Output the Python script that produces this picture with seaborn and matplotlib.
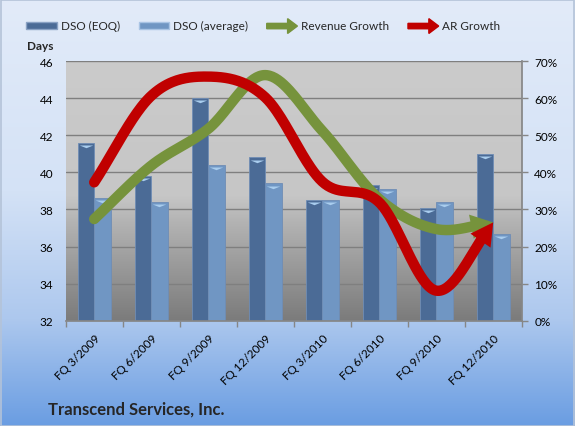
import matplotlib
matplotlib.use("Agg")
import matplotlib.pyplot as plt
import matplotlib.patches as mpatches
from matplotlib.legend_handler import HandlerPatch
from matplotlib.colors import LinearSegmentedColormap
import numpy as np
import pandas as pd
import seaborn as sns

quarters = ["FQ 3/2009", "FQ 6/2009", "FQ 9/2009", "FQ 12/2009",
            "FQ 3/2010", "FQ 6/2010", "FQ 9/2010", "FQ 12/2010"]
dso_eoq = [41.6, 39.8, 44.0, 40.8, 38.5, 39.3, 38.1, 41.0]
dso_avg = [38.6, 38.4, 40.4, 39.4, 38.5, 39.1, 38.4, 36.7]
revenue_growth = [27.4, 41.8, 51.7, 66.2, 51.2, 32.8, 24.7, 26.5]
ar_growth = [37.3, 60.6, 65.8, 60.2, 37.5, 31.9, 8.1, 26.5]

sns.set_theme(style="white")
plt.rcParams["font.family"] = ["Lato", "DejaVu Sans"]

dark, light = "#4b6b96", "#7096c3"
green, red = "#76933c", "#c00000"
gray = "#868686"


def smooth(xs, ys, n=40):
    # Catmull-Rom curve through the points, like Excel's smoothed line
    p = np.column_stack([xs, ys]).astype(float)
    p = np.vstack([2 * p[0] - p[1], p, 2 * p[-1] - p[-2]])
    t = np.linspace(0, 1, n, endpoint=False)[:, None]
    out = []
    for i in range(1, len(p) - 2):
        p0, p1, p2, p3 = p[i - 1], p[i], p[i + 1], p[i + 2]
        out.append(0.5 * (2 * p1 + (-p0 + p2) * t + (2 * p0 - 5 * p1 + 4 * p2 - p3) * t ** 2
                          + (-p0 + 3 * p1 - 3 * p2 + p3) * t ** 3))
    out.append(p[-2][None, :])
    return np.vstack(out)


fig = plt.figure(figsize=(5.75, 4.27), dpi=100)

# figure background gradient
bg = fig.add_axes([0, 0, 1, 1], zorder=-10)
fig_cmap = LinearSegmentedColormap.from_list(
    "figbg", [(0, "#e2ebf9"), (0.45, "#d4e2f6"), (0.75, "#adc8ee"), (1, "#6a9de2")])
bg.imshow(np.linspace(0, 1, 256)[:, None], cmap=fig_cmap, aspect="auto", extent=[0, 1, 0, 1])
bg.axis("off")
fig.patches.append(mpatches.Rectangle((0.001, 0.001), 0.998, 0.997, transform=fig.transFigure,
                                      fill=False, edgecolor="#b4c3d8", lw=1.2))

ax = fig.add_axes([0.1143, 0.2466, 0.7930, 0.6082])
ax.patch.set_visible(False)
plot_cmap = LinearSegmentedColormap.from_list(
    "plotbg", [(0, "#cbcbcb"), (0.52, "#c6c6c6"), (0.62, "#b3b3b3"), (1, "#7b7b7b")])
ax.imshow(np.linspace(0, 1, 256)[:, None], cmap=plot_cmap, aspect="auto",
          extent=[0, 1, 0, 1], transform=ax.transAxes, zorder=0)

df = pd.DataFrame({
    "quarter": quarters * 2,
    "value": dso_eoq + dso_avg,
    "series": ["DSO (EOQ)"] * len(quarters) + ["DSO (average)"] * len(quarters),
})
sns.barplot(data=df, x="quarter", y="value", hue="series", palette=[dark, light],
            width=0.58, saturation=1, legend=False, edgecolor="#6f8db5", linewidth=0.6,
            ax=ax, zorder=2)

# light caps at the top of the bars
cap = [(-1, 0), (1, 0), (0, -0.4), (-1, 0)]
for bar in ax.patches:
    ax.scatter(bar.get_x() + bar.get_width() / 2, bar.get_height() - 0.12, marker=cap,
               s=95, color="#a9cdee", linewidths=0, zorder=3)

ax.set_xlim(-0.5, len(quarters) - 0.5)
ax.set_ylim(32, 46)
ax.set_yticks(np.arange(32, 47, 2))
ax.yaxis.grid(True, color="#7f7f7f", lw=1)
ax.set_axisbelow(True)
ax.set_xlabel("")
ax.set_ylabel("")
ax.spines[["top", "left", "right"]].set_visible(False)
ax.spines["bottom"].set_color(gray)
ax.tick_params(axis="y", length=0, pad=9, labelsize=8.5, labelcolor="black")
ax.set_xticks(range(len(quarters)))
ax.set_xticklabels(quarters, rotation=45, ha="right", rotation_mode="anchor")
ax.set_xticks(np.arange(-0.5, len(quarters)), minor=True)
ax.tick_params(axis="x", which="major", length=0, pad=8, labelsize=8.5, labelcolor="black")
ax.tick_params(axis="x", which="minor", bottom=True, length=4, color=gray, width=1)

ax2 = ax.twinx()
ax2.set_ylim(0, 70)
ax2.set_yticks(np.arange(0, 71, 10))
ax2.set_yticklabels([f"{v}%" for v in range(0, 71, 10)])
ax2.grid(False)
ax2.spines[["top", "left", "bottom"]].set_visible(False)
ax2.spines["right"].set_color(gray)
ax2.tick_params(axis="y", right=True, length=4, color=gray, width=1, pad=5,
                labelsize=8.5, labelcolor="black")

head_px = 22
for series, color in [(revenue_growth, green), (ar_growth, red)]:
    curve = smooth(np.arange(len(series)), series)
    disp = ax2.transData.transform(curve)
    dist = np.hypot(*(disp - disp[-1]).T)
    cut = np.where(dist > head_px)[0][-1]
    ax2.plot(curve[:cut + 2, 0], curve[:cut + 2, 1], color=color, lw=7.5,
             solid_capstyle="round", solid_joinstyle="round", zorder=4)
    ax2.annotate("", xy=curve[-1], xytext=curve[cut],
                 arrowprops=dict(arrowstyle="-|>,head_length=1.0,head_width=0.55",
                                 mutation_scale=16, color=color, lw=0,
                                 shrinkA=0, shrinkB=0), zorder=5)


def arrow_handle(legend, orig_handle, xdescent, ydescent, width, height, fontsize):
    return mpatches.FancyArrow(0, height / 2, width, 0, width=height * 0.8,
                               head_width=height * 2.2, head_length=width * 0.32,
                               length_includes_head=True)


handles = [
    mpatches.Patch(facecolor=dark, edgecolor="#8aa2c4", label="DSO (EOQ)"),
    mpatches.Patch(facecolor=light, edgecolor="#a9c4e4", label="DSO (average)"),
    mpatches.FancyArrow(0, 0, 1, 0, color=green, label="Revenue Growth"),
    mpatches.FancyArrow(0, 0, 1, 0, color=red, label="AR Growth"),
]
fig.legend(handles=handles, loc="center", bbox_to_anchor=(0.458, 0.937), ncol=4,
           frameon=False, fontsize=8.5, handlelength=2.6, handleheight=0.5,
           handletextpad=0.3, columnspacing=1.6,
           handler_map={mpatches.FancyArrow: HandlerPatch(patch_func=arrow_handle)})

fig.text(0.047, 0.892, "Days", fontsize=8.5, weight="bold", va="center", ha="left")
fig.text(0.083, 0.040, "Transcend Services, Inc.", fontsize=12, weight="bold",
         va="center", ha="left")

fig.savefig("out.png", dpi=100)
